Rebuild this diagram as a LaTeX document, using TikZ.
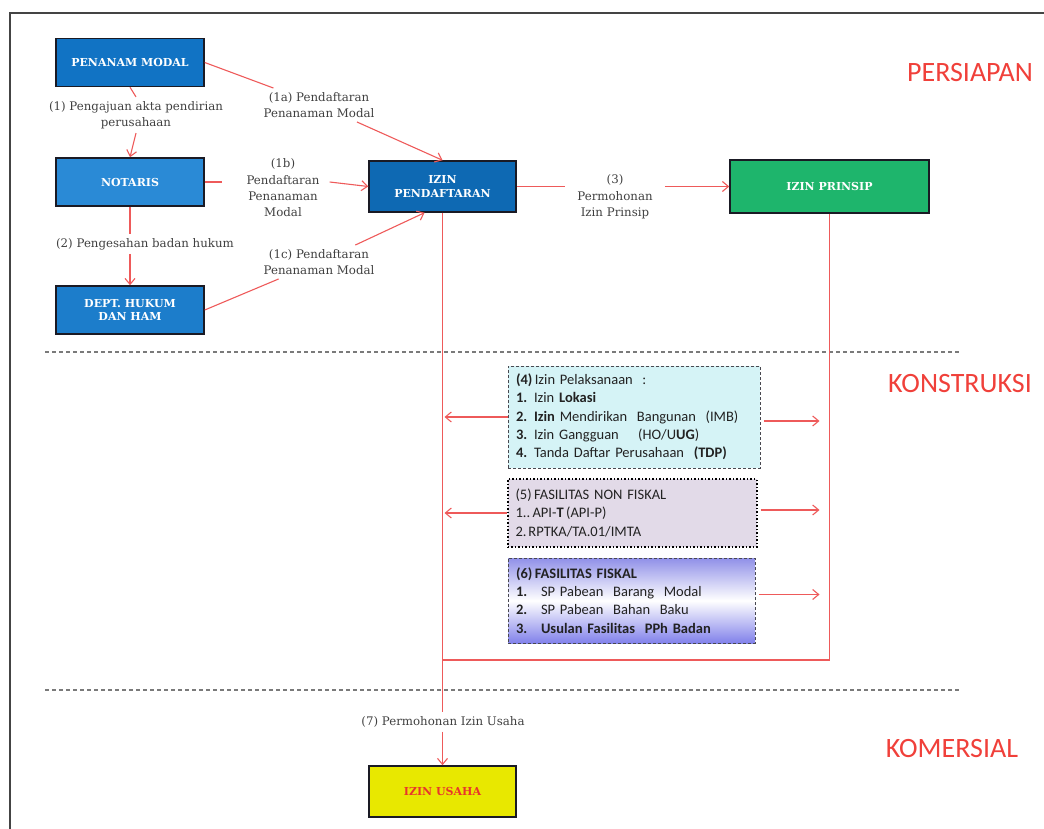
\documentclass[tikz,border=0pt]{standalone}
\usepackage{fontspec}
\setmainfont{DejaVu Serif}
\newfontfamily\calibri{Carlito}
\usepackage{tikz}
\usetikzlibrary{positioning,arrows.meta}
\definecolor{pmblue}{HTML}{1173C4}
\definecolor{ntblue}{HTML}{2A8AD6}
\definecolor{dhblue}{HTML}{1C7DCB}
\definecolor{ipblue}{HTML}{0E69B3}
\definecolor{prgreen}{HTML}{1EB56C}
\definecolor{usyellow}{HTML}{E8E800}
\definecolor{usred}{HTML}{E8352B}
\definecolor{boxline}{HTML}{1A1A24}
\definecolor{flowred}{HTML}{EE5A5A}
\definecolor{labelgray}{HTML}{404040}
\definecolor{secred}{HTML}{F0403A}
\definecolor{sepgray}{HTML}{7A7A7A}
\definecolor{framegray}{HTML}{444444}
\definecolor{cyanfill}{HTML}{D5F3F6}
\definecolor{lilacfill}{HTML}{E2DAE8}
\definecolor{perifill}{HTML}{9090E8}
\definecolor{itemtext}{HTML}{222222}
\tikzset{
  % --- office boxes ---
  office/.style={draw=boxline, line width=1.5pt, align=center, text=white,
                 font=\bfseries\fontsize{11}{13.5}\selectfont,
                 minimum width=148pt, minimum height=48pt, inner sep=2pt},
  % --- permit lists (dashed boxes) ---
  permit/.style={draw=boxline!80, line width=1pt, dash pattern=on 3pt off 2pt,
                 align=left, text=itemtext, text width=236pt, inner xsep=8pt,
                 font=\calibri\fontsize{14.5}{18.3}\selectfont},
  % --- flows ---
  flow/.style={draw=flowred, line width=1.1pt},
  flowarr/.style={flow, -{Straight Barb[length=6pt,width=10pt]}},
  lbl/.style={text=labelgray, align=center, inner sep=4pt,
              font=\fontsize{11.8}{16.4}\selectfont},
  phase/.style={text=secred, font=\calibri\fontsize{28}{32}\selectfont},
  sepline/.style={draw=sepgray, line width=1.3pt, dash pattern=on 4pt off 3pt},
}
\newcommand{\itm}[2][18pt]{\makebox[#1][l]{#2}}

\begin{document}
\begin{tikzpicture}[x=1pt,y=-1pt]
  \useasboundingbox (0,0) rectangle (1044,829);
  \draw[framegray, line width=2pt] (10,829) -- (10,13) -- (1044,13);

  % --- phase separators and titles ---
  \draw[sepline] (45,352) -- (960,352);
  \draw[sepline] (45,690) -- (960,690);
  \node[phase] (persiapan)  at (970,73)  {PERSIAPAN};
  \node[phase] (konstruksi) at (960,384) {KONSTRUKSI};
  \node[phase] (komersial)  at (952,749) {KOMERSIAL};

  % --- left column ---
  \node[office, fill=pmblue] (pm) at (130,62.5) {PENANAM MODAL};
  \node[office, fill=ntblue] (nt) at (130,182)  {NOTARIS};
  \node[office, fill=dhblue] (dh) at (130,310)  {DEPT. HUKUM\\DAN HAM};

  % --- registration / principle ---
  \node[office, fill=ipblue, minimum width=147pt, minimum height=51pt]
        (ip) at (442.5,186.5) {IZIN\\PENDAFTARAN};
  \node[office, fill=prgreen, minimum width=199pt, minimum height=53pt]
        (ipr) at (829.5,186.5) {IZIN PRINSIP};

  % --- business permit ---
  \node[office, fill=usyellow, text=usred, minimum width=147pt, minimum height=51pt]
        (iu) at (442.5,791.5) {IZIN USAHA};

  % --- flow labels ---
  \node[lbl] (l1)  at (136,115) {(1) Pengajuan akta pendirian\\perusahaan};
  \node[lbl] (l2)  at (145,244) {(2) Pengesahan badan hukum};
  \node[lbl] (l1a) at (319,105) {(1a) Pendaftaran\\Penanaman Modal};
  \node[lbl] (l1b) at (283,188) {(1b)\\Pendaftaran\\Penanaman\\Modal};
  \node[lbl] (l1c) at (319,262) {(1c) Pendaftaran\\Penanaman Modal};
  \node[lbl] (l3)  at (615,197) {(3)\\Permohonan\\Izin Prinsip};
  \node[lbl] (l7)  at (443,722) {(7) Permohonan Izin Usaha};

  % --- permit lists ---
  \node[permit, fill=cyanfill, minimum height=102pt] (b4) at (634,417)
    {\textbf{(4)}\,Izin Pelaksanaan~~:\\
     \itm{\textbf{1.}}Izin \textbf{Lokasi}\\
     \itm{\textbf{2.}}\textbf{Izin} Mendirikan~ Bangunan~ (IMB)\\
     \itm{\textbf{3.}}Izin Gangguan~~~ (HO/U\textbf{UG})\\
     \itm{\textbf{4.}}Tanda Daftar Perusahaan~ \textbf{(TDP)}};
  \node[permit, fill=lilacfill, draw=black, line width=2pt, dash pattern=on 1.5pt off 2pt,
        text width=233pt, minimum height=68pt] (b5) at (632,513)
    {(5)\,FASILITAS NON FISKAL\\
     1..\,API-\textbf{T}\,(API-P)\\
     \itm[13pt]{2.}RPTKA/TA.01/IMTA};
  \node[permit, top color=perifill, bottom color=perifill!90!blue, middle color=white,
        text width=231pt, minimum height=85pt] (b6) at (631.5,600.5)
    {\textbf{(6)\,FASILITAS FISKAL}\\
     \itm[25pt]{\textbf{1.}}SP Pabean~ Barang~ Modal\\
     \itm[25pt]{\textbf{2.}}SP Pabean~ Bahan~ Baku\\
     \itm[25pt]{\textbf{3.}}\textbf{Usulan Fasilitas~ PPh Badan}};

  % --- left column flows ---
  \draw[flow] (pm.south) -- (l1.north);
  \draw[flowarr] (l1.south) -- (nt.north);
  \draw[flow] (nt.south) -- (l2.north -| nt.south);
  \draw[flowarr] (l2.south -| nt.south) -- (dh.north);

  % --- registration flows (1a, 1b, 1c) ---
  \draw[flow] (pm.east) -- (l1a);
  \draw[flowarr] (l1a) -- (ip.north);
  \draw[flow] (nt.east) -- ([xshift=-20pt]nt.east -| l1b.west);
  \draw[flowarr] ([xshift=6pt]nt.east -| l1b.east) -- (ip.west);
  \draw[flow] (dh.east) -- (l1c);
  \draw[flowarr] (l1c) -- ([xshift=-18pt]ip.south);

  % --- principle permit (3) ---
  \draw[flow] (ip.east) -- ([xshift=-8pt]ip.east -| l3.west);
  \draw[flowarr] ([xshift=8pt]ip.east -| l3.east) -- (ipr.west);

  % --- trunk lines down to the business permit ---
  \coordinate (join) at (443,660);
  \draw[flow] (ipr.south) |- (join);
  \draw[flow] (ip.south) -- (l7.north -| ip.south);
  \draw[flowarr] (l7.south -| ip.south) -- (iu.north);

  % --- permit list side arrows ---
  \draw[flowarr, shorten >=2pt] (b4.west) -- (b4.west -| ip.south);
  \draw[flowarr, shorten >=2pt] (b5.west) -- (b5.west -| ip.south);
  \draw[flowarr, shorten <=3pt, shorten >=10pt] ([yshift=-4pt]b4.east) -- ([yshift=-4pt]b4.east -| ipr.south);
  \draw[flowarr, shorten <=3pt, shorten >=10pt] ([yshift=3pt]b5.east) -- ([yshift=3pt]b5.east -| ipr.south);
  \draw[flowarr, shorten <=3pt, shorten >=10pt] ([yshift=6pt]b6.east) -- ([yshift=6pt]b6.east -| ipr.south);
\end{tikzpicture}
\end{document}
